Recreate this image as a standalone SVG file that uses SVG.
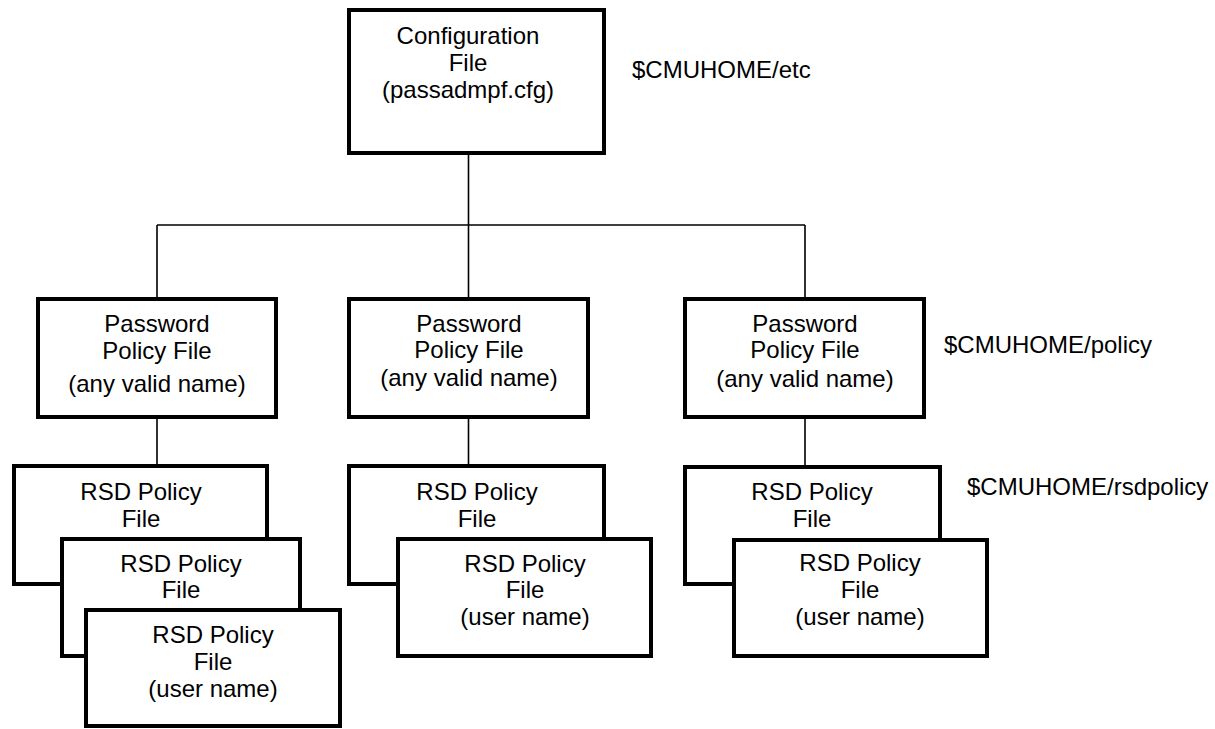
<svg xmlns="http://www.w3.org/2000/svg" width="1215" height="729" viewBox="0 0 1215 729">
<style>
.box{fill:#fff;stroke:#000;stroke-width:4}
.ln{fill:none;stroke:#000;stroke-width:1.6}
text{font-family:"Liberation Sans",Arial,sans-serif;font-size:24px;fill:#000}
.c{text-anchor:middle}
</style>
<rect width="1215" height="729" fill="#fff"/>
<g id="connectors">
<path class="ln" d="M468.5 155V225M157 225H805M157 225V297M468.5 225V297M805 225V297M157 419V464M468.5 419V464M805 419V465"/>
</g>
<g id="config">
<rect class="box" x="349" y="10" width="255" height="143"/>
<text class="c" x="468" y="44">Configuration</text>
<text class="c" x="468" y="71">File</text>
<text class="c" x="468" y="98">(passadmpf.cfg)</text>
</g>
<g id="pwd-left">
<rect class="box" x="38" y="299" width="238" height="118"/>
<text class="c" x="157" y="332">Password</text>
<text class="c" x="157" y="359">Policy File</text>
<text class="c" x="157" y="392">(any valid name)</text>
</g>
<g id="pwd-mid">
<rect class="box" x="349" y="299" width="239" height="118"/>
<text class="c" x="469" y="332">Password</text>
<text class="c" x="469" y="358">Policy File</text>
<text class="c" x="469" y="386">(any valid name)</text>
</g>
<g id="pwd-right">
<rect class="box" x="685" y="299" width="239" height="118"/>
<text class="c" x="805" y="332">Password</text>
<text class="c" x="805" y="358">Policy File</text>
<text class="c" x="805" y="387">(any valid name)</text>
</g>
<g id="rsd-left-1">
<rect class="box" x="14" y="466" width="253" height="118"/>
<text class="c" x="141" y="500">RSD Policy</text>
<text class="c" x="141" y="527">File</text>
</g>
<g id="rsd-left-2">
<rect class="box" x="62" y="539" width="238" height="117"/>
<text class="c" x="181" y="572">RSD Policy</text>
<text class="c" x="181" y="598">File</text>
</g>
<g id="rsd-left-3">
<rect class="box" x="86" y="610" width="254" height="116"/>
<text class="c" x="213" y="643">RSD Policy</text>
<text class="c" x="213" y="670">File</text>
<text class="c" x="213" y="697">(user name)</text>
</g>
<g id="rsd-mid-1">
<rect class="box" x="349" y="466" width="255" height="118"/>
<text class="c" x="477" y="500">RSD Policy</text>
<text class="c" x="477" y="527">File</text>
</g>
<g id="rsd-mid-2">
<rect class="box" x="398" y="539" width="253" height="117"/>
<text class="c" x="525" y="572">RSD Policy</text>
<text class="c" x="525" y="598">File</text>
<text class="c" x="525" y="625">(user name)</text>
</g>
<g id="rsd-right-1">
<rect class="box" x="685" y="467" width="255" height="117"/>
<text class="c" x="812" y="500">RSD Policy</text>
<text class="c" x="812" y="527">File</text>
</g>
<g id="rsd-right-2">
<rect class="box" x="734" y="540" width="253" height="116"/>
<text class="c" x="860" y="571">RSD Policy</text>
<text class="c" x="860" y="598">File</text>
<text class="c" x="860" y="625">(user name)</text>
</g>
<g id="labels">
<text x="632" y="78">$CMUHOME/etc</text>
<text x="944" y="353">$CMUHOME/policy</text>
<text x="967" y="495">$CMUHOME/rsdpolicy</text>
</g>
</svg>
